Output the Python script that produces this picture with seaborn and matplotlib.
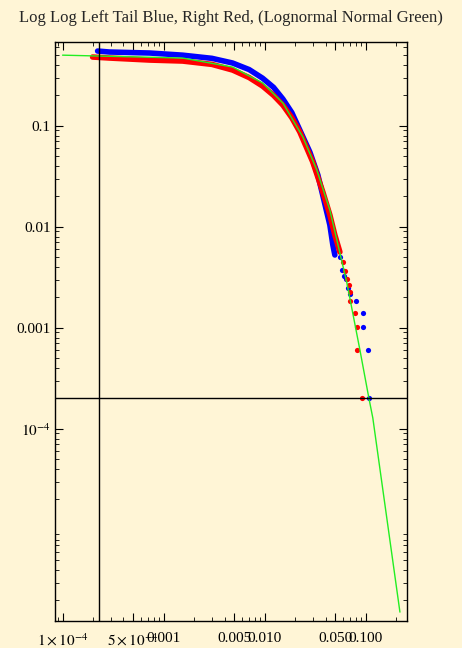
import matplotlib
matplotlib.use('Agg')
import matplotlib.pyplot as plt
import seaborn as sns
import numpy as np
from matplotlib.ticker import FixedLocator, LogLocator, NullFormatter

# Left tail (blue): dense band then sparse extreme points
blue_x = [2.22e-4, 2.92e-4, 7.26e-4, 1.54e-3, 3.0e-3, 4.8e-3, 7.0e-3, 9.5e-3, 0.0122, 0.0151, 0.0185,
          0.0222, 0.0279, 0.0335, 0.0384, 0.044, 0.0471, 0.0493]
blue_y = [0.549, 0.537, 0.525, 0.50, 0.465, 0.418, 0.36, 0.296, 0.24, 0.184, 0.135,
          0.0907, 0.0549, 0.0325, 0.0184, 0.0104, 6.59e-3, 5.25e-3]
blue_tail_x = [0.0553, 0.0578, 0.0605, 0.0634, 0.0663, 0.0695, 0.0797, 0.0933, 0.0933, 0.105, 0.107]
blue_tail_y = [5.0e-3, 3.72e-3, 3.25e-3, 3.03e-3, 2.47e-3, 2.15e-3, 1.84e-3, 1.40e-3, 1.02e-3, 6.0e-4, 2.01e-4]

# Right tail (red)
red_x = [1.98e-4, 2.92e-4, 7.26e-4, 1.54e-3, 3.0e-3, 4.8e-3, 7.0e-3, 9.5e-3, 0.0122, 0.0151, 0.0185,
         0.0222, 0.0298, 0.0375, 0.044, 0.0493, 0.0553]
red_y = [0.479, 0.468, 0.447, 0.437, 0.405, 0.356, 0.30, 0.247, 0.20, 0.160, 0.12,
         0.0867, 0.0438, 0.0221, 0.0131, 8.28e-3, 5.62e-3]
red_tail_x = [0.0592, 0.0619, 0.0649, 0.0679, 0.0695, 0.0695, 0.0778, 0.0815, 0.0815, 0.0912]
red_tail_y = [4.47e-3, 3.64e-3, 3.03e-3, 2.65e-3, 2.26e-3, 1.84e-3, 1.40e-3, 1.02e-3, 6.0e-4, 2.01e-4]

# Lognormal fit (green)
green_x = [1e-4, 1.54e-3, 4.8e-3, 9.5e-3, 0.0151, 0.0238, 0.0327, 0.044, 0.0649,
           0.0873, 0.107, 0.117, 0.217]
green_y = [0.50, 0.468, 0.381, 0.265, 0.168, 0.0773, 0.0364, 0.0146, 2.77e-3,
           6.0e-4, 2.01e-4, 1.28e-4, 1.53e-6]

vline_x = 2.3e-4
hline_y = 2.01e-4

x_ticks = [1e-4, 5e-4, 1e-3, 5e-3, 1e-2, 5e-2, 1e-1]
x_labels = [r'$1\times10^{-4}$', r'$5\times10^{-4}$', '0.001', '0.005', '0.010', '0.050', '0.100']
y_ticks = [1e-4, 1e-3, 1e-2, 1e-1]
y_labels = [r'$10^{-4}$', '0.001', '0.01', '0.1']

sns.set_style("ticks")
plt.rcParams['font.family'] = ['Liberation Serif', 'DejaVu Serif']
plt.rcParams['mathtext.fontset'] = 'stix'
bg = '#fff5d6'

fig = plt.figure(figsize=(4.62, 6.48), dpi=100, facecolor=bg)
ax = fig.add_axes([0.120, 0.0417, 0.761, 0.894], facecolor=bg)

sns.lineplot(x=blue_x, y=blue_y, sort=False, color='#0000ff', lw=4, ax=ax)
sns.lineplot(x=red_x, y=red_y, sort=False, color='#ff0000', lw=4, ax=ax)
sns.scatterplot(x=blue_tail_x, y=blue_tail_y, color='#0000ff', s=14, linewidth=0, ax=ax)
sns.scatterplot(x=red_tail_x, y=red_tail_y, color='#ff0000', s=14, linewidth=0, ax=ax)
sns.lineplot(x=green_x, y=green_y, sort=False, color='#22ee22', lw=1, ax=ax)
ax.axvline(vline_x, color='black', lw=1)
ax.axhline(hline_y, color='black', lw=1)

ax.set_xscale('log')
ax.set_yscale('log')
ax.set_xlim(8.5e-5, 0.255)
ax.set_ylim(1.25e-6, 0.68)

ax.xaxis.set_major_locator(FixedLocator(x_ticks))
ax.set_xticklabels(x_labels)
ax.yaxis.set_major_locator(FixedLocator(y_ticks))
ax.set_yticklabels(y_labels)
ax.xaxis.set_minor_locator(LogLocator(subs=np.arange(2, 10)))
ax.yaxis.set_minor_locator(LogLocator(subs=np.arange(2, 10)))
ax.xaxis.set_minor_formatter(NullFormatter())
ax.yaxis.set_minor_formatter(NullFormatter())
ax.tick_params(which='both', direction='in', top=True, right=True, labelsize=11, colors='black')
ax.tick_params(axis='x', which='major', pad=8)
ax.tick_params(which='major', length=6)
ax.tick_params(which='minor', length=3)
for s in ax.spines.values():
    s.set_linewidth(1)
    s.set_color('black')

fig.text(0.5, 0.985, 'Log Log Left Tail Blue, Right Red, (Lognormal Normal Green)',
         ha='center', va='top', fontsize=12)

plt.savefig('out.png', dpi=100, facecolor=bg)
plt.close()
